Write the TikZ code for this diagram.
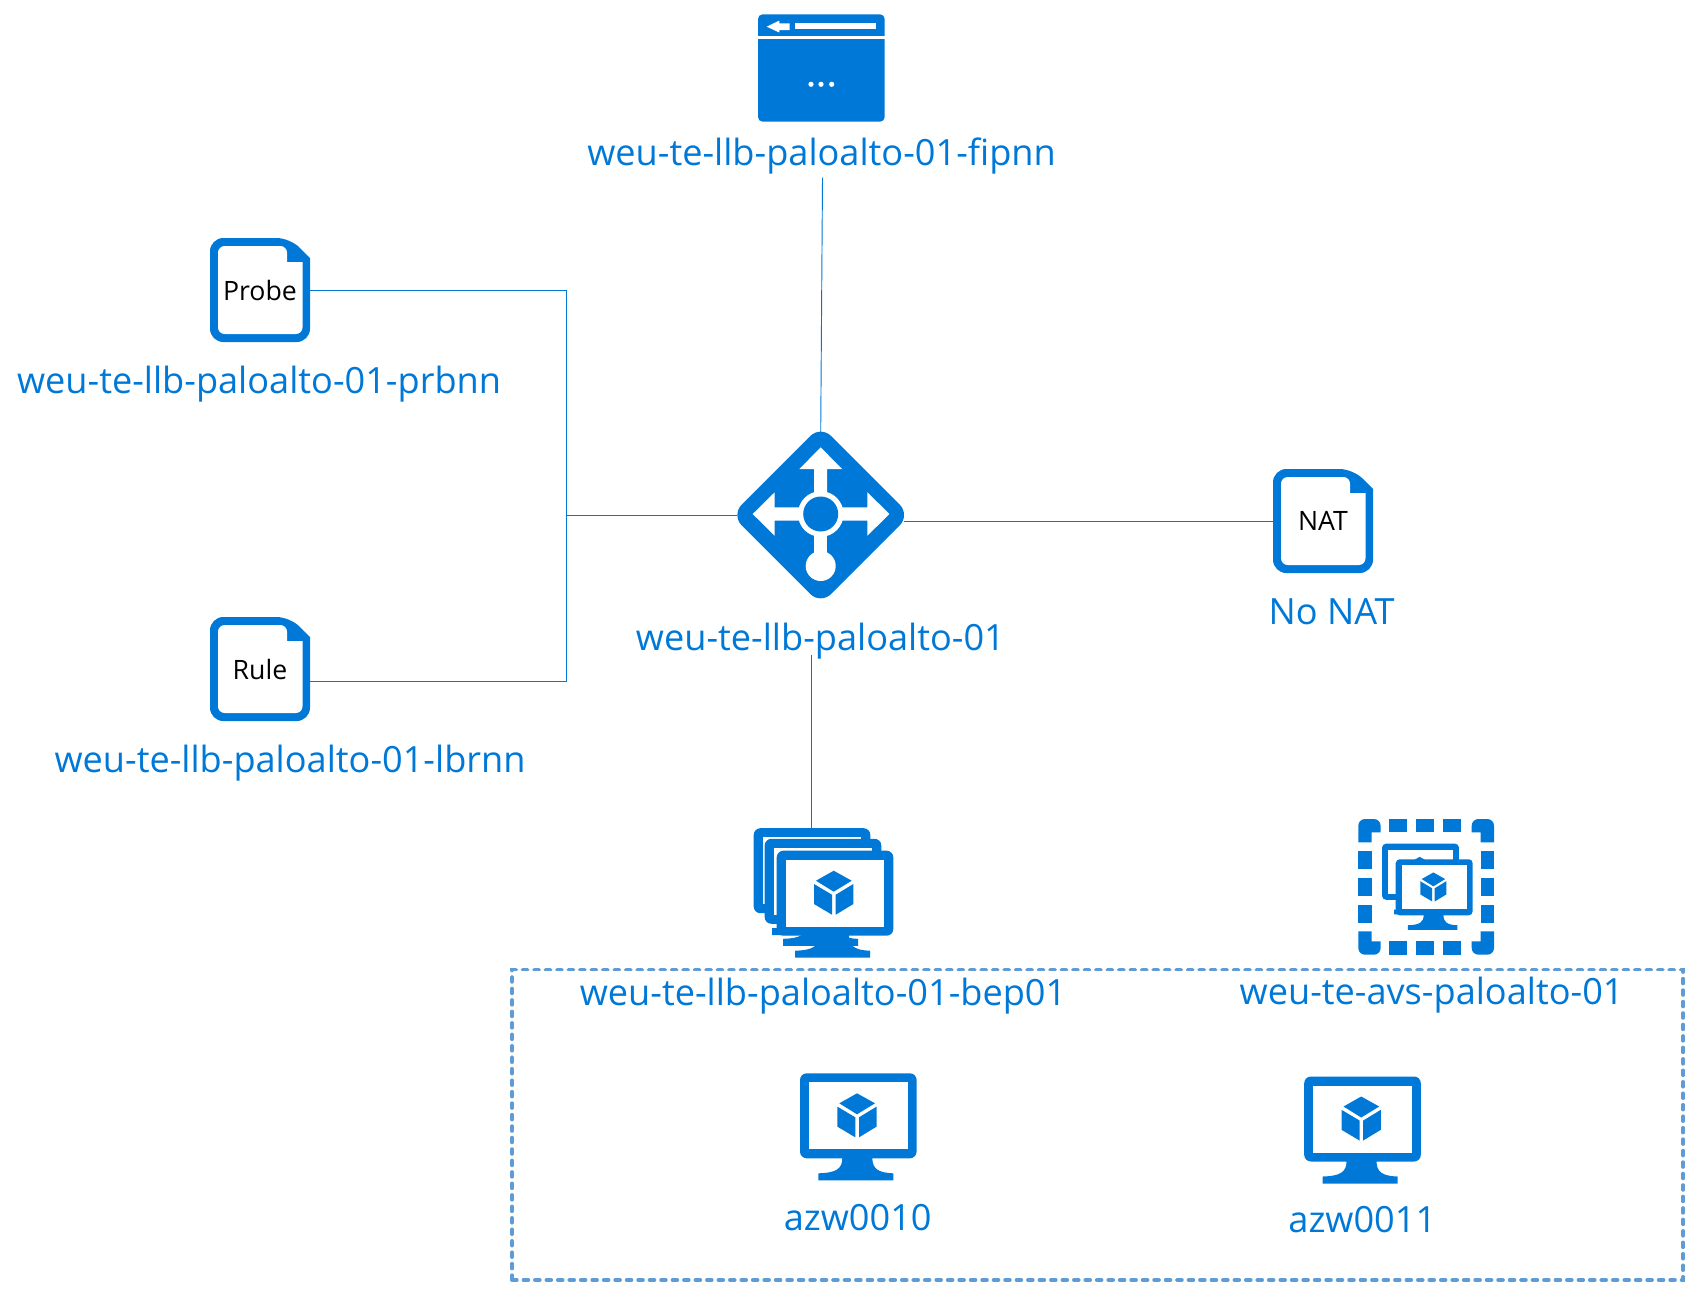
\documentclass[tikz,border=0pt]{standalone}
\usepackage{fontspec}
\setmainfont{Open Sans}
\definecolor{az}{HTML}{0078D7}
\definecolor{dashc}{HTML}{5F9BD4}
\tikzset{
  x=.75pt,y=-.75pt,
  lbl/.style={text=az,font=\fontsize{27.1}{32}\selectfont,inner sep=0pt,outer sep=0pt,anchor=base},
  doctext/.style={text=black,font=\fontsize{20}{24}\selectfont,inner sep=0pt,outer sep=0pt,minimum width=75pt,minimum height=78pt},
  iconbox/.style={inner sep=0pt,outer sep=0pt},
  link/.style={draw=az,line width=.7pt},
  docicon/.pic={
    \fill[az,rounded corners=10pt] (-50,-20) -- (-50,-52) -- (30,-52) [sharp corners] -- (50,-32) [rounded corners=10pt] -- (50,52) -- (-50,52) -- cycle;
    \fill[white,rounded corners=5pt] (-42,-20) -- (-42,-44) -- (27,-44) [sharp corners] -- (27,-28) -- (42.5,-28) [rounded corners=5pt] -- (42.5,44) -- (-42,44) -- cycle;
  },
  monitor/.pic={
    \fill[az,rounded corners=#1] (-58.3,-42.5) rectangle (58.3,42.5);
    \fill[white] (-49.3,-33.5) rectangle (49.3,33.5);
    \fill[az] (-16,42) .. controls (-16,53) and (-22,57) .. (-40,57.5) -- (-40,64.5) -- (35,64.5) -- (35,57.5) .. controls (20,57) and (14,53) .. (14,42) -- cycle;
    \fill[az] (-1.3,-22.5) -- (16.7,-12.5) -- (-1.3,-1.5) -- (-19,-12.5) -- cycle;
    \fill[az] (-21,-9.2) -- (-3,1.5) -- (-3,21.5) -- (-21,10.8) -- cycle;
    \fill[az] (18.3,-9.2) -- (.7,1.5) -- (.7,21.5) -- (18.3,10.8) -- cycle;
  }
}
\begin{document}
\begin{tikzpicture}
\useasboundingbox (0,0) rectangle (1698,1297);

% browser icon
\fill[az,rounded corners=3.5pt] (758,60) -- (758,14.3) -- (884.7,14.3) -- (884.7,121.7) -- (758,121.7) -- cycle;
\fill[white] (758,36.2) rectangle (884.7,38.8);
\fill[white] (766.7,26.7) -- (779.3,20.5) -- (779.3,23.3) -- (789.7,23.3) -- (789.7,30) -- (779.3,30) -- (779.3,32.5) -- cycle;
\fill[white] (795.3,22.7) rectangle (875.7,29.3);
\foreach \dx in {811,821,831.7} \fill[white] (\dx,84.3) circle (2.6);
\node[iconbox,minimum width=95pt,minimum height=80.5pt] (fipicon) at (821.3,68) {};
\node[lbl] (fip) at (821.5,165) {weu-te-llb-paloalto-01-fipnn};

% doc icons
\pic at (260,290) {docicon};
\node[doctext] (probe) at (260,290.5) {Probe};
\node[lbl] (prb) at (259,393) {weu-te-llb-paloalto-01-prbnn};
\pic at (260,669) {docicon};
\node[doctext] (rule) at (260,669.5) {Rule};
\node[lbl] (lbr) at (290,772) {weu-te-llb-paloalto-01-lbrnn};
\pic at (1323,521) {docicon};
\node[doctext] (nat) at (1323,521) {NAT};
\node[lbl] (nonat) at (1331.6,624.5) {No NAT};

% load balancer
\begin{scope}[shift={(820.7,515)}]
  \fill[az,rounded corners=11pt] (-40,-49.4) -- (0,-89.4) -- (89.4,0) -- (0,89.4) -- (-89.4,0) -- cycle;
  \fill[white] (0,-67.7) -- (21.3,-46) -- (6.5,-46) -- (6.5,0) -- (-6.5,0) -- (-6.5,-46) -- (-21.3,-46) -- cycle;
  \fill[white] (-68,-1) -- (-46,-22.7) -- (-46,-7.7) -- (0,-7.7) -- (0,5.7) -- (-46,5.7) -- (-46,20.7) -- cycle;
  \fill[white] (68.7,-1) -- (46.7,-22.7) -- (46.7,-7.7) -- (0,-7.7) -- (0,5.7) -- (46.7,5.7) -- (46.7,20.7) -- cycle;
  \fill[white] (-6.5,0) rectangle (6.5,50);
  \fill[white] (0,51) circle (15);
  \fill[white] (0,-1) circle (22.8);
  \fill[az] (0,-1) circle (17.5);
\end{scope}
\node[iconbox,minimum width=125.5pt,minimum height=124.5pt] (lb) at (820.7,515) {};
\node[lbl] (lblabel) at (820.4,650) {weu-te-llb-paloalto-01};

% group box
\node[draw=dashc,line width=2.8pt,line cap=round,dash pattern=on 3.6pt off 5pt,inner sep=0pt,minimum width=878.4pt,minimum height=232.8pt] (group) at (1097.6,1124.8) {};

% vm scale set
\pic at (812,870.7) {monitor=5pt};
\pic at (823,881.3) {monitor=5pt};
\pic at (835,893.2) {monitor=5pt};
\node[iconbox,minimum width=87.5pt,minimum height=64pt] (vmssback) at (811,870.7) {};
\node[lbl] (bep) at (823,1005.5) {weu-te-llb-paloalto-01-bep01};

% availability set
\begin{scope}[shift={(1358.3,819)}]
  \fill[az,rounded corners=5pt] (0,23.3) -- (0,0) -- (22.3,0) [sharp corners] -- (22.3,13.3) -- (13.3,13.3) -- (13.3,23.3) -- cycle;
  \fill[az,rounded corners=5pt] (135.7,23.3) -- (135.7,0) -- (113.4,0) [sharp corners] -- (113.4,13.3) -- (122.4,13.3) -- (122.4,23.3) -- cycle;
  \fill[az,rounded corners=5pt] (0,112.4) -- (0,135.7) -- (22.3,135.7) [sharp corners] -- (22.3,122.4) -- (13.3,122.4) -- (13.3,112.4) -- cycle;
  \fill[az,rounded corners=5pt] (135.7,112.4) -- (135.7,135.7) -- (113.4,135.7) [sharp corners] -- (113.4,122.4) -- (122.4,122.4) -- (122.4,112.4) -- cycle;
  \foreach \t in {31,58,85} {
    \fill[az] (\t,0) rectangle (\t+18,13.3);
    \fill[az] (\t,122.4) rectangle (\t+18,135.7);
    \fill[az] (0,\t+1) rectangle (13.3,\t+19);
    \fill[az] (122.4,\t+1) rectangle (135.7,\t+19);
  }
\end{scope}
\pic[shift={(1420.5,871.7)},scale=.66] {monitor=3pt};
\pic[shift={(1434.2,887.3)},scale=.66] {monitor=3pt};
\node[iconbox,minimum width=102pt,minimum height=102pt] (avsicon) at (1426,887) {};
\node[lbl] (avs) at (1431.6,1004.5) {weu-te-avs-paloalto-01};

% vms
\pic at (858.3,1115.8) {monitor=5pt};
\node[iconbox,minimum width=87.5pt,minimum height=80pt] (vma) at (858.3,1127) {};
\node[lbl] (azwa) at (857.7,1230.5) {azw0010};
\pic at (1362.5,1119) {monitor=5pt};
\node[iconbox,minimum width=87.5pt,minimum height=80pt] (vmb) at (1362.5,1130) {};
\node[lbl] (azwb) at (1362.3,1232.5) {azw0011};

% connectors
\coordinate (jun) at (566,515);
\draw[link] (fip.south) ++(1,4) -- (lb.north);
\draw[link] (probe.east) -| (jun);
\draw[link] (rule.east) ++(0,11.5) -| (jun);
\draw[link] (jun) -- (lb.west);
\draw[link] (lb.east) ++(0,6) -- (nat.west);
\draw[link] (lblabel.south -| vmssback.north) ++(0,-4) -- (vmssback.north);
\end{tikzpicture}
\end{document}
